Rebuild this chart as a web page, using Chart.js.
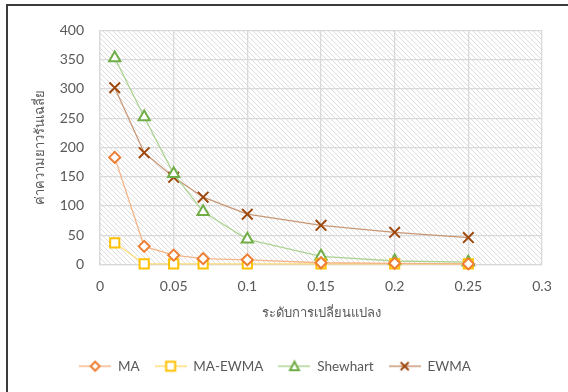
<!DOCTYPE html>
<html>
<head>
<meta charset="utf-8">
<script src="https://cdn.jsdelivr.net/npm/chart.js@4"></script>
<style>
  html, body { margin: 0; padding: 0; background: #fff; }
  #frame { position: absolute; left: 6px; top: 4px; width: 562px; height: 388px;
           border-left: 2px solid #3c3c3c; border-top: 2px solid #3c3c3c; box-sizing: border-box; }
  #wrap { position: absolute; left: 0; top: 0; width: 560px; height: 386px; }
</style>
</head>
<body>
<div id="frame"><div id="wrap"><canvas id="c"></canvas></div></div>
<script>
// Shift levels (x) and average run length per chart type
const shifts = [0.01, 0.03, 0.05, 0.07, 0.1, 0.15, 0.2, 0.25];
const maValues = [183, 31, 16, 10, 8, 3, 2, 1];
const maEwmaValues = [37, 1, 1, 1, 1, 1, 1, 1];
const shewhartValues = [353, 252, 155, 90, 43, 14, 6, 4];
const ewmaValues = [302, 191, 149, 115, 86, 67, 55, 46];
const xTicks = [0, 0.05, 0.1, 0.15, 0.2, 0.25, 0.3];
const yTicks = [0, 50, 100, 150, 200, 250, 300, 350, 400];

const FONT = "Lato, 'Noto Sans', 'DejaVu Sans', sans-serif";

function pts(vals) { return shifts.map((x, i) => ({ x: x, y: vals[i] })); }

// Diagonal hatch used as plot-area fill
function hatchPattern(ctx) {
  const t = document.createElement('canvas');
  t.width = 5; t.height = 5;
  const g = t.getContext('2d');
  g.fillStyle = '#ffffff';
  g.fillRect(0, 0, 5, 5);
  g.strokeStyle = '#dddddd';
  g.lineWidth = 1;
  g.beginPath();
  g.moveTo(-1, -1); g.lineTo(6, 6);
  g.moveTo(-1, 4); g.lineTo(1, 6);
  g.moveTo(4, -1); g.lineTo(6, 1);
  g.stroke();
  return ctx.createPattern(t, 'repeat');
}

const hatchPlugin = {
  id: 'hatch',
  beforeDraw(chart) {
    const { ctx, chartArea: a } = chart;
    ctx.save();
    ctx.fillStyle = hatchPattern(ctx);
    ctx.fillRect(a.left, a.top, a.right - a.left, a.bottom - a.top);
    ctx.restore();
  }
};

// Legend swatch: line segment with the series marker in the middle
function swatch(lineColor, markColor, style) {
  const c = document.createElement('canvas');
  c.width = 32; c.height = 14;
  const g = c.getContext('2d');
  g.strokeStyle = lineColor; g.lineWidth = 1.5;
  g.beginPath(); g.moveTo(0, 7); g.lineTo(32, 7); g.stroke();
  g.lineWidth = 2; g.strokeStyle = markColor; g.fillStyle = '#fff';
  g.beginPath();
  if (style === 'diamond') {
    g.moveTo(16, 2.5); g.lineTo(20.5, 7); g.lineTo(16, 11.5); g.lineTo(11.5, 7); g.closePath();
    g.fill(); g.stroke();
  } else if (style === 'square') {
    g.rect(11.5, 2.5, 9, 9); g.fill(); g.stroke();
  } else if (style === 'triangle') {
    g.moveTo(16, 2.5); g.lineTo(20.5, 11); g.lineTo(11.5, 11); g.closePath();
    g.fill(); g.stroke();
  } else {
    g.moveTo(12, 3); g.lineTo(20, 11); g.moveTo(20, 3); g.lineTo(12, 11); g.stroke();
  }
  return c;
}

const series = [
  { label: 'MA', data: maValues, line: 'rgba(244,177,131,0.95)', mark: '#ED7D31', style: 'rectRot', sw: 'diamond', r: 5.5 },
  { label: 'MA-EWMA', data: maEwmaValues, line: 'rgba(255,217,102,0.9)', mark: '#FFC000', style: 'rect', sw: 'square', r: 6.5 },
  { label: 'Shewhart', data: shewhartValues, line: 'rgba(169,209,142,0.95)', mark: '#70AD47', style: 'triangle', sw: 'triangle', r: 6.5 },
  { label: 'EWMA', data: ewmaValues, line: 'rgba(197,145,110,0.95)', mark: '#9E480E', style: 'crossRot', sw: 'cross', r: 7.5 }
];

const datasets = series.map(s => ({
  label: s.label,
  data: pts(s.data),
  borderColor: s.line,
  borderWidth: 1.3,
  pointStyle: s.style,
  pointRadius: s.r,
  pointBorderColor: s.mark,
  pointBackgroundColor: '#ffffff',
  pointBorderWidth: 2,
  tension: 0,
  fill: false,
  clip: false
}));

new Chart(document.getElementById('c'), {
  type: 'line',
  data: { datasets: datasets },
  plugins: [hatchPlugin],
  options: {
    responsive: true,
    maintainAspectRatio: false,
    animation: false,
    layout: { padding: { left: 0, right: 26, top: 22.5, bottom: 9 } },
    plugins: {
      tooltip: { enabled: false },
      legend: {
        position: 'bottom',
        labels: {
          usePointStyle: true,
          pointStyleWidth: 32,
          padding: 15,
          color: '#595959',
          font: { family: FONT, size: 13.5 },
          generateLabels(chart) {
            return series.map((s, i) => ({
              text: s.label,
              pointStyle: swatch(s.line, s.mark, s.sw),
              fillStyle: 'transparent',
              strokeStyle: 'transparent',
              lineWidth: 0,
              fontColor: '#595959',
              datasetIndex: i,
              hidden: false
            }));
          }
        }
      }
    },
    scales: {
      x: {
        type: 'linear',
        min: 0, max: 0.3,
        afterBuildTicks(scale) { scale.ticks = xTicks.map(v => ({ value: v })); },
        afterFit(scale) { scale.height = 80; },
        grid: { color: '#d9d9d9', lineWidth: 1.3, drawTicks: false },
        border: { color: '#d9d9d9', width: 1.3 },
        ticks: {
          padding: 14,
          color: '#595959',
          font: { family: FONT, size: 14 },
          callback: v => String(v)
        },
        title: {
          display: true,
          text: 'ระดับการเปลี่ยนแปลง',
          color: '#595959',
          font: { family: FONT, size: 13 },
          padding: { top: 0, bottom: 24 }
        }
      },
      y: {
        min: 0, max: 400,
        afterBuildTicks(scale) { scale.ticks = yTicks.map(v => ({ value: v })); },
        afterFit(scale) { scale.width = 92; },
        grid: { color: '#d9d9d9', lineWidth: 1.3, drawTicks: false },
        border: { color: '#d9d9d9', width: 1.3 },
        ticks: {
          padding: 16,
          color: '#595959',
          font: { family: FONT, size: 14 }
        },
        title: {
          display: true,
          text: 'ค่าความยาวรันเฉลี่ย',
          color: '#595959',
          font: { family: FONT, size: 13 },
          padding: { top: 24, bottom: 0 }
        }
      }
    }
  }
});
</script>
</body>
</html>
